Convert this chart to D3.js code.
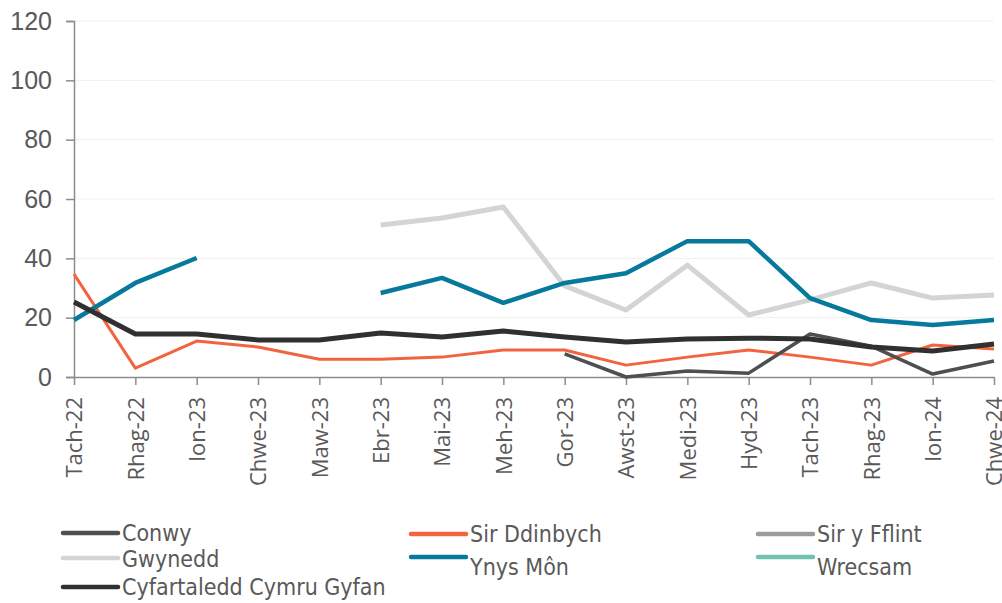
<!DOCTYPE html>
<html>
<head>
<meta charset="utf-8">
<script src="https://cdn.jsdelivr.net/npm/d3@7"></script>
<style>
  body { margin: 0; background: #fff; }
  svg { display: block; }
</style>
</head>
<body>
<div id="chart-area"></div>
<script>
// months along the x axis
var months = ["Tach-22", "Rhag-22", "Ion-23", "Chwe-23", "Maw-23", "Ebr-23", "Mai-23", "Meh-23",
              "Gor-23", "Awst-23", "Medi-23", "Hyd-23", "Tach-23", "Rhag-23", "Ion-24", "Chwe-24"];

var yTicks = [0, 20, 40, 60, 80, 100, 120];

// series values (null = no data)
var conwy      = [null, null, null, null, null, null, null, null, 7.8, 0, 2, 1.3, 14.5, 10.4, 1, 5.4];
var sirDdinbych = [34.7, 3, 12.1, 10.1, 6, 6, 6.7, 9.1, 9.1, 4, 6.7, 9.1, 6.7, 4, 10.8, 9.4];
var sirYFflint = [null, null, null, null, null, null, null, null, null, null, null, null, null, null, null, null];
var gwynedd    = [null, null, null, null, null, 51.2, 53.6, 57.3, 30.7, 22.6, 37.7, 20.9, 26, 31.7, 26.6, 27.6];
var ynysMon    = [19.2, 31.7, 40.1, null, null, 28.3, 33.4, 25, 31.7, 35, 45.8, 45.8, 26.6, 19.2, 17.5, 19.2];
var wrecsam    = [null, null, null, null, null, null, null, null, null, null, null, null, null, null, null, null];
var cymru      = [25.3, 14.5, 14.5, 12.5, 12.5, 14.8, 13.5, 15.5, 13.5, 11.8, 12.8, 13.1, 12.8, 10.1, 8.8, 11.1];

var series = [
  {name: "Gwynedd", values: gwynedd, color: "#d4d4d4", w: 5},
  {name: "Sir y Fflint", values: sirYFflint, color: "#9b9b9b", w: 3.5},
  {name: "Wrecsam", values: wrecsam, color: "#72c2b3", w: 3.5},
  {name: "Sir Ddinbych", values: sirDdinbych, color: "#f2643f", w: 3},
  {name: "Ynys Môn", values: ynysMon, color: "#07799c", w: 4.5},
  {name: "Conwy", values: conwy, color: "#4f4f4f", w: 3.5},
  {name: "Cyfartaledd Cymru Gyfan", values: cymru, color: "#303030", w: 5}
];

var W = 1002, H = 603;
var margin = {left: 74, right: 8, top: 21, bottom: 226};
var width = W - margin.left - margin.right;
var height = H - margin.top - margin.bottom;

var svg = d3.select("#chart-area").append("svg")
    .attr("width", W)
    .attr("height", H);

var g = svg.append("g")
    .attr("transform", "translate(" + margin.left + "," + margin.top + ")");

var x = d3.scalePoint()
    .domain(months)
    .range([0, width]);

var y = d3.scaleLinear()
    .domain([0, 120])
    .range([height, 0]);

// gridlines
g.append("g")
    .selectAll("line")
    .data(yTicks.filter(function(d){ return d > 0; }))
    .enter()
    .append("line")
    .attr("x1", 0)
    .attr("x2", width)
    .attr("y1", function(d){ return y(d); })
    .attr("y2", function(d){ return y(d); })
    .attr("stroke", "#f0f0f0")
    .attr("stroke-width", 1);

// y axis
var yAxisCall = d3.axisLeft(y)
    .tickValues(yTicks)
    .tickSize(8)
    .tickPadding(14);
var yAxis = g.append("g")
    .attr("class", "y axis")
    .call(yAxisCall);
yAxis.select(".domain").attr("stroke", "#8c8c8c").attr("stroke-width", 1.5);
yAxis.selectAll(".tick line").attr("stroke", "#8c8c8c").attr("stroke-width", 1.5);
yAxis.selectAll(".tick text")
    .attr("fill", "#595959")
    .attr("font-family", "'Liberation Sans', Arial, sans-serif")
    .attr("font-size", "25px");

// x axis
var xAxisCall = d3.axisBottom(x)
    .tickSize(8)
    .tickSizeOuter(0);
var xAxis = g.append("g")
    .attr("class", "x axis")
    .attr("transform", "translate(0," + height + ")")
    .call(xAxisCall);
xAxis.select(".domain").attr("stroke", "#8c8c8c").attr("stroke-width", 1.5);
xAxis.selectAll(".tick line").attr("stroke", "#8c8c8c").attr("stroke-width", 1.5);
xAxis.selectAll(".tick text")
    .attr("fill", "#595959")
    .attr("font-family", "'Open Sans', sans-serif")
    .attr("font-size", "22px")
    .attr("text-anchor", "end")
    .attr("dy", "0.35em")
    .attr("transform", "translate(0,20) rotate(-90)")
    .attr("x", 0)
    .attr("y", 0);

// lines
var line = d3.line()
    .defined(function(d){ return d != null; })
    .x(function(d, i){ return x(months[i]); })
    .y(function(d){ return y(d); });

g.selectAll(".series")
    .data(series)
    .enter()
    .append("path")
    .attr("class", "series")
    .attr("fill", "none")
    .attr("stroke", function(d){ return d.color; })
    .attr("stroke-width", function(d){ return d.w; })
    .attr("stroke-linejoin", "round")
    .attr("d", function(d){ return line(d.values); });

// legend
var legendItems = [
  {name: "Conwy", lx: 63, ly: 533, ty: 533},
  {name: "Sir Ddinbych", lx: 411, ly: 534, ty: 534},
  {name: "Sir y Fflint", lx: 758, ly: 534, ty: 534},
  {name: "Gwynedd", lx: 63, ly: 558, ty: 559},
  {name: "Ynys Môn", lx: 411, ly: 557, ty: 567},
  {name: "Wrecsam", lx: 758, ly: 557, ty: 567},
  {name: "Cyfartaledd Cymru Gyfan", lx: 63, ly: 587, ty: 587}
];

var legend = svg.append("g").attr("class", "legend");
legendItems.forEach(function(it){
  var s = series.filter(function(d){ return d.name === it.name; })[0];
  legend.append("line")
      .attr("x1", it.lx)
      .attr("x2", it.lx + 55)
      .attr("y1", it.ly)
      .attr("y2", it.ly)
      .attr("stroke", s.color)
      .attr("stroke-width", 4.5)
      .attr("stroke-linecap", "round");
  legend.append("text")
      .attr("x", it.lx + 59)
      .attr("y", it.ty)
      .attr("dy", "0.35em")
      .attr("fill", "#595959")
      .attr("font-family", "'Liberation Sans Narrow', 'DejaVu Sans Condensed', sans-serif")
      .attr("font-size", "23px")
      .text(it.name);
});
</script>
</body>
</html>
